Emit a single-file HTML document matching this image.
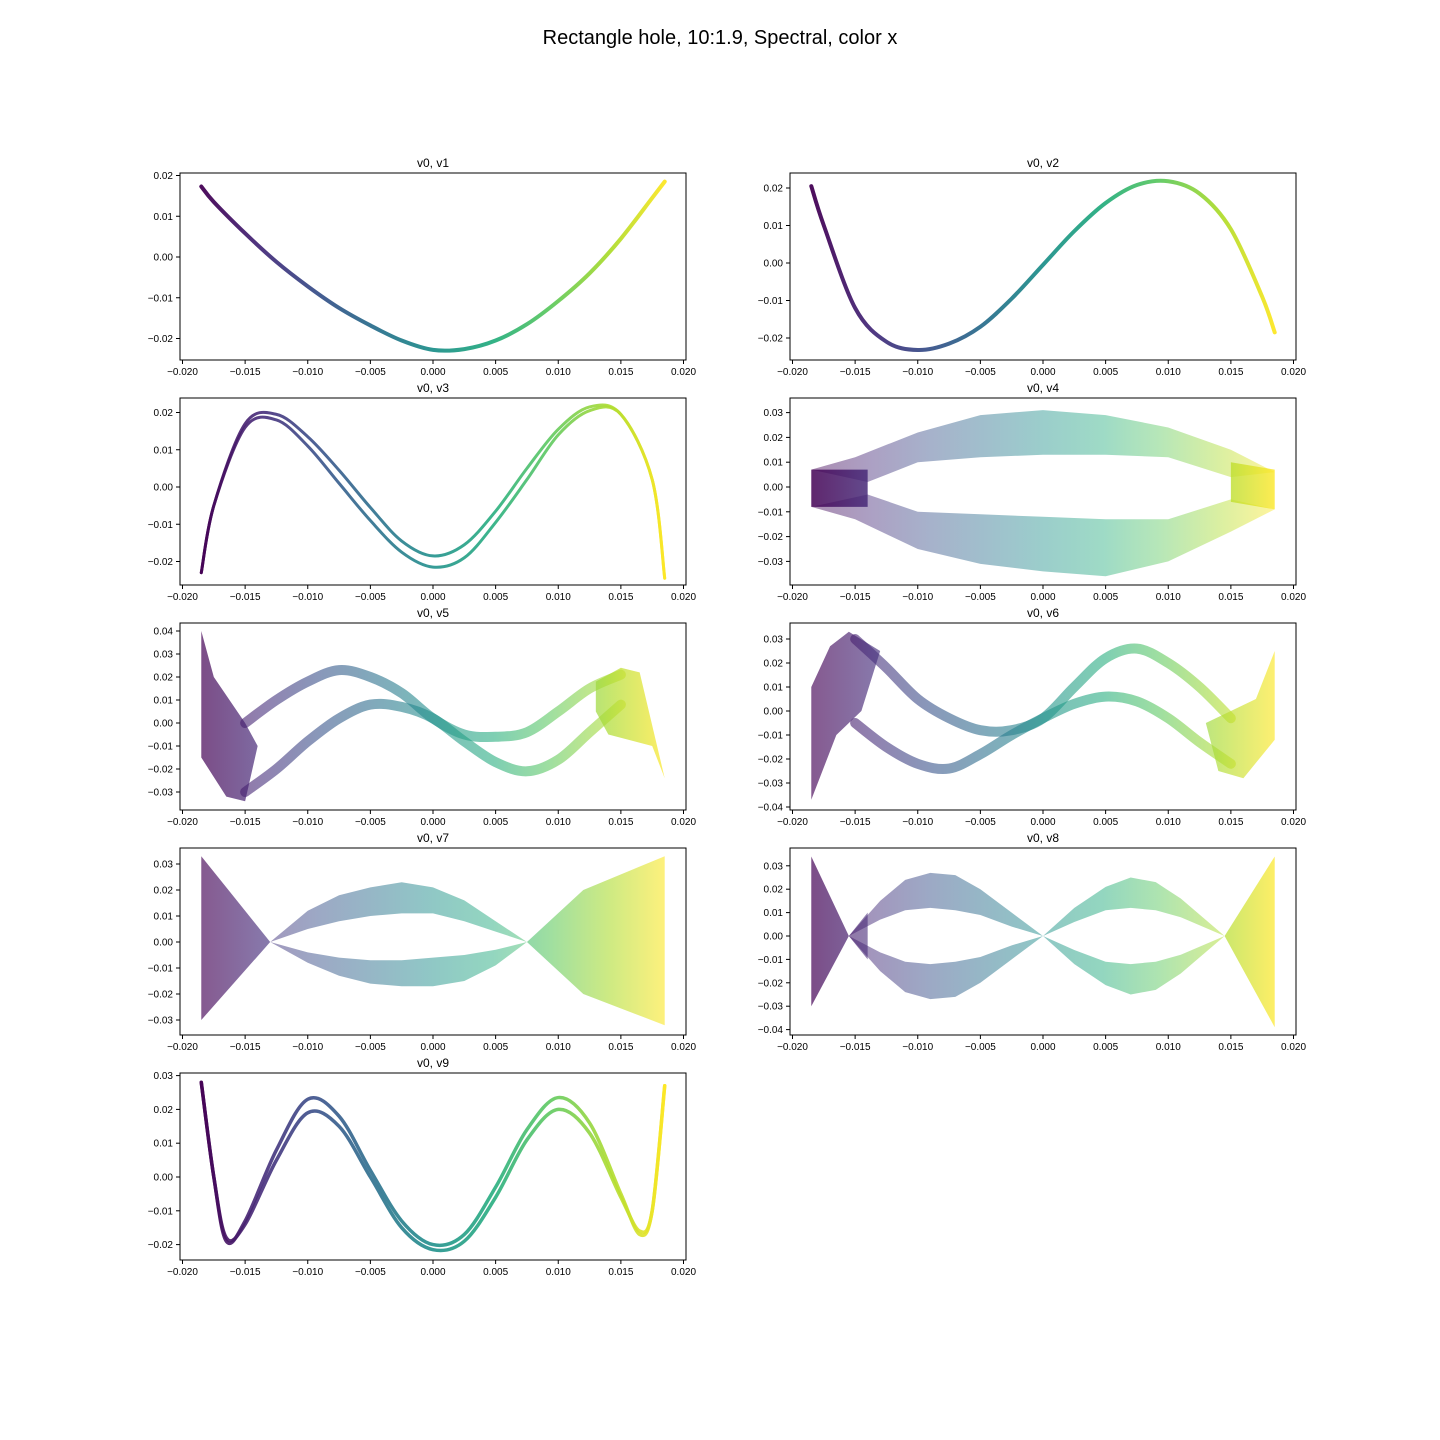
<!DOCTYPE html>
<html><head><meta charset="utf-8"><style>
body{margin:0;background:#fff;}
svg{display:block;font-family:"Liberation Sans",sans-serif;}
</style></head><body>
<svg id="fig" width="1440" height="1440" viewBox="0 0 1440 1440">
<rect width="1440" height="1440" fill="#fff"/>
<text x="720" y="44" text-anchor="middle" font-size="20">Rectangle hole, 10:1.9, Spectral, color x</text>
<defs>
<linearGradient id="g0" gradientUnits="userSpaceOnUse" x1="201" y1="0" x2="665" y2="0">
<stop offset="0" stop-color="#440154"/><stop offset="0.13" stop-color="#472d7b"/><stop offset="0.25" stop-color="#3b528b"/><stop offset="0.38" stop-color="#2c728e"/><stop offset="0.5" stop-color="#21918c"/><stop offset="0.63" stop-color="#28ae80"/><stop offset="0.75" stop-color="#5ec962"/><stop offset="0.88" stop-color="#addc30"/><stop offset="1" stop-color="#fde725"/></linearGradient>
<linearGradient id="g1" gradientUnits="userSpaceOnUse" x1="811" y1="0" x2="1275" y2="0">
<stop offset="0" stop-color="#440154"/><stop offset="0.13" stop-color="#472d7b"/><stop offset="0.25" stop-color="#3b528b"/><stop offset="0.38" stop-color="#2c728e"/><stop offset="0.5" stop-color="#21918c"/><stop offset="0.63" stop-color="#28ae80"/><stop offset="0.75" stop-color="#5ec962"/><stop offset="0.88" stop-color="#addc30"/><stop offset="1" stop-color="#fde725"/></linearGradient>
</defs>
</svg>
<script>
// ---- data ----
const xTicks=[-0.02,-0.015,-0.01,-0.005,0,0.005,0.01,0.015,0.02];
const X17=[-0.0185,-0.0175,-0.015,-0.0125,-0.01,-0.0075,-0.005,-0.0025,0,0.0025,0.005,0.0075,0.01,0.0125,0.015,0.0175,0.0185];
const v1Y=[0.0173,0.0135,0.0058,-0.0012,-0.0072,-0.0125,-0.0168,-0.0205,-0.0228,-0.0226,-0.0205,-0.0165,-0.0108,-0.004,0.0045,0.0145,0.0185];
const v2Y=[0.0205,0.01,-0.012,-0.021,-0.0232,-0.0215,-0.017,-0.0095,-0.0005,0.0085,0.016,0.0208,0.0218,0.0185,0.009,-0.009,-0.0185];
const v3A=[-0.023,-0.005,0.017,0.0195,0.0135,0.0045,-0.0055,-0.0145,-0.0185,-0.0155,-0.0065,0.005,0.0155,0.0215,0.0195,0.002,-0.0245];
const v3B=[-0.023,-0.005,0.016,0.018,0.011,0.001,-0.009,-0.0175,-0.0215,-0.019,-0.0095,0.002,0.014,0.0205,0.0195,0.002,-0.0245];
const v4TopX=[-0.0185,-0.015,-0.01,-0.005,0,0.005,0.01,0.015,0.0185,0.015,0.01,0.005,0,-0.005,-0.01,-0.014];
const v4TopY=[0.007,0.012,0.022,0.029,0.031,0.029,0.024,0.015,0.006,0.004,0.012,0.013,0.013,0.012,0.01,0.002];
const v4BotX=[-0.0185,-0.015,-0.01,-0.005,0,0.005,0.01,0.015,0.0185,0.015,0.01,0.005,0,-0.005,-0.01,-0.014];
const v4BotY=[-0.008,-0.013,-0.025,-0.031,-0.034,-0.036,-0.03,-0.018,-0.009,-0.005,-0.013,-0.013,-0.012,-0.011,-0.01,-0.003];
const v4LX=[-0.0185,-0.014,-0.014,-0.0185],v4LY=[0.007,0.007,-0.008,-0.008];
const v4RX=[0.015,0.0185,0.0185,0.015],v4RY=[0.01,0.007,-0.009,-0.006];
const XM=[-0.015,-0.0125,-0.01,-0.0075,-0.005,-0.0025,0,0.0025,0.005,0.0075,0.01,0.0125,0.015];
const v5U=[0.0,0.01,0.018,0.023,0.02,0.013,0.002,-0.005,-0.006,-0.004,0.005,0.015,0.021];
const v5L=[-0.03,-0.02,-0.008,0.002,0.008,0.007,0.002,-0.008,-0.017,-0.021,-0.016,-0.004,0.008];
const v5CLX=[-0.0185,-0.0175,-0.015,-0.014,-0.015,-0.0165,-0.0185],v5CLY=[0.04,0.02,0.0,-0.01,-0.034,-0.032,-0.015];
const v5CRX=[0.013,0.015,0.0165,0.0185,0.0175,0.014,0.013],v5CRY=[0.018,0.024,0.022,-0.024,-0.01,-0.005,0.005];
const v6U=[0.03,0.018,0.005,-0.003,-0.008,-0.008,-0.003,0.01,0.022,0.026,0.02,0.01,-0.003];
const v6L=[-0.005,-0.015,-0.022,-0.024,-0.018,-0.01,-0.003,0.003,0.006,0.004,-0.003,-0.013,-0.022];
const v6CLX=[-0.0185,-0.0185,-0.017,-0.0155,-0.013,-0.0145,-0.0165],v6CLY=[-0.037,0.01,0.027,0.033,0.025,0.0,-0.01];
const v6CRX=[0.0185,0.0185,0.016,0.014,0.013,0.017],v6CRY=[0.025,-0.012,-0.028,-0.025,-0.005,0.005];
const v7X=[-0.013,-0.01,-0.0075,-0.005,-0.0025,0,0.0025,0.005,0.0075,0.005,0.0025,0,-0.0025,-0.005,-0.0075,-0.01];
const v7TopY=[0,0.012,0.018,0.021,0.023,0.021,0.016,0.008,0,0.004,0.008,0.011,0.011,0.01,0.008,0.005];
const v7BotY=[0,-0.008,-0.013,-0.016,-0.017,-0.017,-0.015,-0.009,0,-0.003,-0.005,-0.006,-0.007,-0.007,-0.006,-0.004];
const v7LX=[-0.013,-0.0185,-0.0185],v7LY=[0,0.033,-0.03];
const v7RX=[0.0075,0.012,0.0185,0.0185,0.012],v7RY=[0,0.02,0.033,-0.032,-0.02];
const v8AX=[-0.0155,-0.013,-0.011,-0.009,-0.007,-0.005,-0.0025,0,-0.0025,-0.005,-0.007,-0.009,-0.011,-0.013];
const v8ATop=[0,0.015,0.024,0.027,0.026,0.02,0.01,0,0.004,0.009,0.011,0.012,0.011,0.007];
const v8ABot=[0,-0.015,-0.024,-0.027,-0.026,-0.02,-0.01,0,-0.004,-0.009,-0.011,-0.012,-0.011,-0.007];
const v8BX=[0,0.0025,0.005,0.007,0.009,0.011,0.0145,0.011,0.009,0.007,0.005,0.0025];
const v8BTop=[0,0.012,0.021,0.025,0.023,0.016,0,0.008,0.011,0.012,0.011,0.006];
const v8BBot=[0,-0.012,-0.021,-0.025,-0.023,-0.016,0,-0.008,-0.011,-0.012,-0.011,-0.006];
const v8LX=[-0.0155,-0.0185,-0.0185],v8LY=[0,0.034,-0.03];
const v8L2X=[-0.0155,-0.014,-0.014],v8L2Y=[0,0.01,-0.01];
const v8RX=[0.0145,0.0185,0.0185],v8RY=[0,0.034,-0.039];
const v9X=[-0.0185,-0.0175,-0.0165,-0.015,-0.0125,-0.01,-0.0075,-0.005,-0.0025,0,0.0025,0.005,0.0075,0.01,0.0125,0.015,0.0165,0.0175,0.0185];
const v9A=[0.028,0.0,-0.019,-0.013,0.008,0.023,0.018,0.002,-0.013,-0.02,-0.017,-0.003,0.014,0.0235,0.016,-0.005,-0.017,-0.01,0.027];
const v9B=[0.028,0.0,-0.018,-0.014,0.005,0.019,0.015,0.0,-0.015,-0.0215,-0.019,-0.006,0.011,0.02,0.013,-0.006,-0.016,-0.01,0.027];

// ---- panel layout ----
const panels=[
 {t:'v0, v1',c:0,top:173,y0:257,s:4075,yt:[-0.02,-0.01,0,0.01,0.02],items:[['c',X17,v1Y,4,0.95]]},
 {t:'v0, v2',c:1,top:173,y0:263,s:3750,yt:[-0.02,-0.01,0,0.01,0.02],items:[['c',X17,v2Y,4,0.95]]},
 {t:'v0, v3',c:0,top:398,y0:487,s:3725,yt:[-0.02,-0.01,0,0.01,0.02],items:[['c',X17,v3A,3,0.9],['c',X17,v3B,3,0.9]]},
 {t:'v0, v4',c:1,top:398,y0:487,s:2480,yt:[-0.03,-0.02,-0.01,0,0.01,0.02,0.03],items:[['p',v4TopX,v4TopY,0.45],['p',v4BotX,v4BotY,0.45],['p',v4LX,v4LY,0.85],['p',v4RX,v4RY,0.8]]},
 {t:'v0, v5',c:0,top:623,y0:723,s:2300,yt:[-0.03,-0.02,-0.01,0,0.01,0.02,0.03,0.04],items:[['c',XM,v5U,10,0.6],['c',XM,v5L,10,0.6],['p',v5CLX,v5CLY,0.7],['p',v5CRX,v5CRY,0.7]]},
 {t:'v0, v6',c:1,top:623,y0:711,s:2400,yt:[-0.04,-0.03,-0.02,-0.01,0,0.01,0.02,0.03],items:[['c',XM,v6U,10,0.6],['c',XM,v6L,10,0.6],['p',v6CLX,v6CLY,0.65],['p',v6CRX,v6CRY,0.65]]},
 {t:'v0, v7',c:0,top:848,y0:942,s:2600,yt:[-0.03,-0.02,-0.01,0,0.01,0.02,0.03],items:[['p',v7X,v7TopY,0.5],['p',v7X,v7BotY,0.5],['p',v7LX,v7LY,0.65],['p',v7RX,v7RY,0.6]]},
 {t:'v0, v8',c:1,top:848,y0:936,s:2340,yt:[-0.04,-0.03,-0.02,-0.01,0,0.01,0.02,0.03],items:[['p',v8AX,v8ATop,0.5],['p',v8AX,v8ABot,0.5],['p',v8BX,v8BTop,0.5],['p',v8BX,v8BBot,0.5],['p',v8LX,v8LY,0.7],['p',v8L2X,v8L2Y,0.6],['p',v8RX,v8RY,0.7]]},
 {t:'v0, v9',c:0,top:1073,y0:1177,s:3380,yt:[-0.02,-0.01,0,0.01,0.02,0.03],items:[['c',v9X,v9A,3.5,0.9],['c',v9X,v9B,3.5,0.9]]}
];
const NS='http://www.w3.org/2000/svg';
const svg=document.getElementById('fig');
function mk(tag,attrs,parent){const e=document.createElementNS(NS,tag);for(const k in attrs)e.setAttribute(k,attrs[k]);(parent||svg).appendChild(e);return e;}
function fmt(v,d){const s=Math.abs(v).toFixed(d);return (v<-1e-12?'\u2212':'')+s;}
function smooth(pts){let d='M'+pts[0][0]+','+pts[0][1];
 for(let i=0;i<pts.length-1;i++){const p0=pts[Math.max(0,i-1)],p1=pts[i],p2=pts[i+1],p3=pts[Math.min(pts.length-1,i+2)];
  d+=' C'+(p1[0]+(p2[0]-p0[0])/6)+','+(p1[1]+(p2[1]-p0[1])/6)+' '+(p2[0]-(p3[0]-p1[0])/6)+','+(p2[1]-(p3[1]-p1[1])/6)+' '+p2[0]+','+p2[1];}
 return d;}
panels.forEach((p,pi)=>{
 const left=p.c?790:180,W=506,H=187;
 const sx=x=>left+253+x*12525, sy=y=>p.y0-y*p.s;
 const g=mk('g',{});
 
 
 const grad='url(#g'+p.c+')';
 const clip=mk('clipPath',{id:'cp'+pi},g);mk('rect',{x:left,y:p.top,width:W,height:H},clip);
 const marks=mk('g',{'clip-path':'url(#cp'+pi+')'},g);
 
 
 p.items.forEach(it=>{
  if(it[0]==='c'){const pts=it[1].map((x,i)=>[sx(x),sy(it[2][i])]);
   const e=mk('path',{d:smooth(pts),fill:'none',stroke:grad,'stroke-width':it[3],'stroke-opacity':it[4],'stroke-linecap':'round'},marks);
   
   
  }else{const pts=it[1].map((x,i)=>sx(x)+','+sy(it[2][i])).join(' ');
   const e=mk('polygon',{points:pts,fill:grad,'fill-opacity':it[3]},marks);
   
   }
 });
 const fr=mk('rect',{x:left,y:p.top,width:W,height:H,fill:'none',stroke:'#000','stroke-width':1},g);
 
 
 const tt=mk('text',{x:left+W/2,y:p.top-6,'text-anchor':'middle','font-size':12},g);tt.textContent=p.t;
 
 
 xTicks.forEach(v=>{const x=sx(v);mk('line',{x1:x,x2:x,y1:p.top+H,y2:p.top+H+4,stroke:'#000'},g);
  const t=mk('text',{x:x,y:p.top+H+15,'text-anchor':'middle','font-size':10},g);t.textContent=fmt(v,3);
  
  });
 p.yt.forEach(v=>{const y=sy(v);mk('line',{x1:left-4,x2:left,y1:y,y2:y,stroke:'#000'},g);
  const t=mk('text',{x:left-7,y:y+3.5,'text-anchor':'end','font-size':10},g);t.textContent=fmt(v,2);
  
  });
});
</script>
</body></html>
